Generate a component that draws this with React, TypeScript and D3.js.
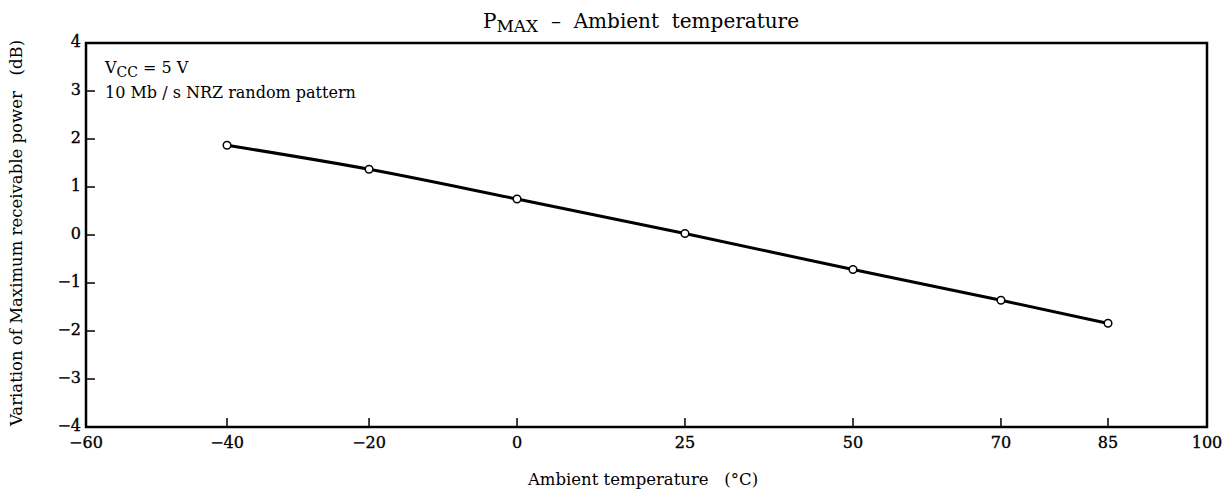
import React from "react";
import * as d3 from "d3";

const temps = [-40, -20, 0, 25, 50, 70, 85];
const pmaxVariation = [1.87, 1.37, 0.75, 0.03, -0.72, -1.36, -1.84];
const xTicks = [-60, -40, -20, 0, 25, 50, 70, 85, 100];
const xTickFractions = [0, 0.1258, 0.2525, 0.3845, 0.5343, 0.6842, 0.8162, 0.9117, 1];
const yTicks = [4, 3, 2, 1, 0, -1, -2, -3, -4];

const W = 1231;
const H = 493;
const M = { left: 86, right: 24, top: 43, bottom: 66 };
const FONT = "'DejaVu Serif', serif";

const fmt = (v: number) => (v < 0 ? "\u2212" + Math.abs(v) : String(v));

export default function App() {
  const iw = W - M.left - M.right;
  const ih = H - M.top - M.bottom;
  const x = d3
    .scaleLinear()
    .domain(xTicks)
    .range(xTickFractions.map((f) => M.left + f * iw));
  const y = d3.scaleLinear().domain([-4, 4]).range([M.top + ih, M.top]);
  const data = temps.map((t, i) => ({ t, v: pmaxVariation[i] }));
  const line = d3
    .line<{ t: number; v: number }>()
    .x((d) => x(d.t))
    .y((d) => y(d.v))
    .curve(d3.curveMonotoneX);

  const heavy = { stroke: "#000", strokeWidth: 0.35 };

  return (
    <svg
      width={W}
      height={H}
      style={{ position: "absolute", left: 0, top: 0, background: "#fff" }}
      fontFamily={FONT}
    >
      <rect x={0} y={0} width={W} height={H} fill="#fff" />
      {/* title */}
      <text x={641} y={28} textAnchor="middle" fontSize={20} fill="#000" style={{ whiteSpace: "pre" }}>
        <tspan>P</tspan>
        <tspan fontSize={17} dy={4}>MAX</tspan>
        <tspan dy={-4}>{"  \u2013  Ambient  temperature"}</tspan>
      </text>
      {/* frame */}
      <rect
        x={M.left}
        y={M.top}
        width={iw}
        height={ih}
        fill="none"
        stroke="#000"
        strokeWidth={2.5}
      />
      {/* y ticks */}
      {yTicks.map((t) => (
        <g key={"y" + t}>
          {t !== 4 && t !== -4 && (
            <line x1={M.left} x2={M.left + 9} y1={y(t)} y2={y(t)} stroke="#000" strokeWidth={1.5} />
          )}
          <text x={M.left - 5} y={y(t) + 4} textAnchor="end" fontSize={16} fill="#000" {...heavy}>
            {fmt(t)}
          </text>
        </g>
      ))}
      {/* x ticks */}
      {xTicks.map((t) => (
        <g key={"x" + t}>
          {t !== -60 && t !== 100 && (
            <line x1={x(t)} x2={x(t)} y1={M.top + ih} y2={M.top + ih - 9} stroke="#000" strokeWidth={1.5} />
          )}
          <text x={x(t)} y={M.top + ih + 21} textAnchor="middle" fontSize={16} fill="#000" {...heavy}>
            {fmt(t)}
          </text>
        </g>
      ))}
      {/* annotations */}
      <text x={105} y={73} fontSize={16} fill="#000">
        <tspan>V</tspan>
        <tspan fontSize={14} dy={4}>CC</tspan>
        <tspan dy={-4}>{" = 5 V"}</tspan>
      </text>
      <text x={105} y={98} fontSize={16} fill="#000">
        10 Mb / s NRZ random pattern
      </text>
      {/* curve */}
      <path d={line(data) || ""} fill="none" stroke="#000" strokeWidth={3} />
      {data.map((d) => (
        <circle key={d.t} cx={x(d.t)} cy={y(d.v)} r={3.8} fill="#fff" stroke="#000" strokeWidth={1.5} />
      ))}
      {/* axis labels */}
      <text x={643} y={485} textAnchor="middle" fontSize={16.5} fill="#000" style={{ whiteSpace: "pre" }}>
        {"Ambient temperature   (\u00B0C)"}
      </text>
      <text
        transform={`translate(22, 233) rotate(-90)`}
        textAnchor="middle"
        fontSize={16.5}
        fill="#000"
        style={{ whiteSpace: "pre" }}
      >
        {"Variation of Maximum receivable power   (dB)"}
      </text>
    </svg>
  );
}
